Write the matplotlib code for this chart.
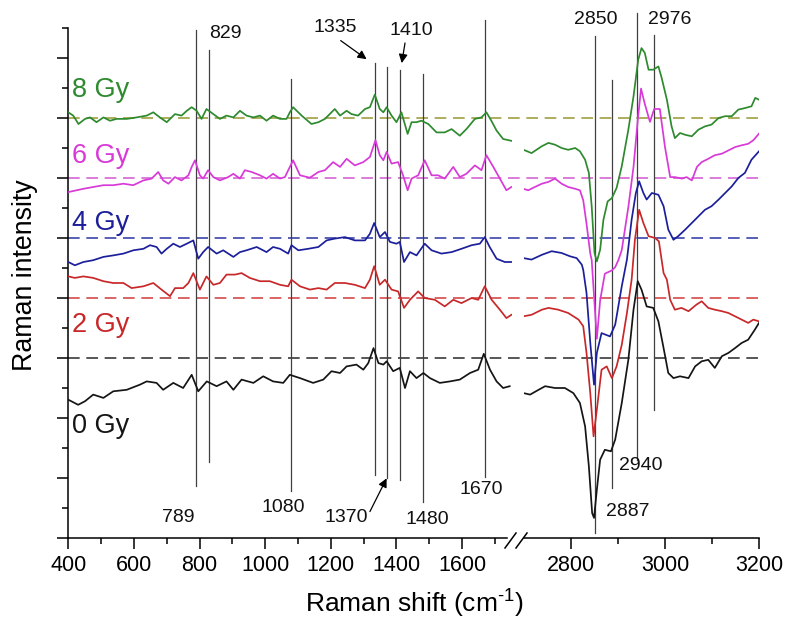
import matplotlib
matplotlib.use("Agg")
import matplotlib.pyplot as plt
from matplotlib.lines import Line2D
from matplotlib.transforms import blended_transform_factory

plt.rcParams['font.family'] = ['Liberation Sans', 'DejaVu Sans']
plt.rcParams['mathtext.fontset'] = 'custom'
plt.rcParams['mathtext.rm'] = 'Liberation Sans'
plt.rcParams['mathtext.it'] = 'Liberation Sans:italic'

# ---------------- data ----------------
doses = ['0 Gy', '2 Gy', '4 Gy', '6 Gy', '8 Gy']
offsets = [6, 8, 10, 12, 14]

# fingerprint region (400-1750 cm-1), intensity relative to each baseline
wn0_lo = [400, 430, 451, 476, 507, 537, 578, 618, 639, 669, 689, 720, 750, 776, 796, 822, 852, 882, 903, 928,
          964, 994, 1024, 1055, 1075, 1106, 1146, 1177, 1202, 1228, 1248, 1278, 1299, 1314, 1330, 1345, 1360,
          1370, 1390, 1410, 1426, 1441, 1461, 1482, 1502, 1532, 1563, 1593, 1624, 1649, 1666, 1685, 1705, 1725, 1745]
int0_lo = [-1.39, -1.56, -1.44, -1.22, -1.33, -1.11, -1.06, -0.89, -0.78, -0.83, -1.06, -0.83, -1.00, -0.56, -1.11,
           -0.78, -0.94, -0.78, -1.06, -0.72, -0.83, -0.61, -0.78, -0.83, -0.56, -0.67, -0.83, -0.72, -0.44, -0.50,
           -0.28, -0.22, -0.39, -0.17, 0.33, -0.17, -0.22, -0.11, -0.44, -0.33, -1.00, -0.44, -0.67, -0.50, -0.67,
           -0.83, -0.78, -0.72, -0.50, -0.39, 0.14, -0.39, -0.78, -1.00, -0.94]

wn2_lo = [400, 420, 446, 476, 507, 537, 568, 593, 629, 659, 684, 710, 725, 750, 766, 781, 801, 821, 842, 862,
          882, 908, 928, 953, 984, 1014, 1045, 1070, 1080, 1106, 1136, 1162, 1187, 1212, 1243, 1273, 1304, 1319,
          1332, 1349, 1365, 1385, 1405, 1423, 1441, 1466, 1486, 1517, 1547, 1573, 1598, 1629, 1649, 1669, 1690,
          1715, 1735, 1750]
int2_lo = [0.72, 0.67, 0.72, 0.67, 0.56, 0.50, 0.50, 0.33, 0.39, 0.50, 0.28, 0.06, 0.33, 0.33, 0.50, 0.83, 0.28,
           0.72, 0.44, 0.50, 0.78, 0.78, 0.83, 0.67, 0.56, 0.56, 0.44, 0.39, 0.61, 0.39, 0.28, 0.33, 0.28, 0.50,
           0.50, 0.44, 0.33, 0.61, 1.06, 0.44, 0.61, 0.28, 0.22, -0.33, -0.06, 0.22, 0.00, -0.06, -0.28, -0.06,
           -0.17, 0.00, -0.06, 0.39, -0.06, -0.39, -0.67, -0.56]

wn4_lo = [400, 420, 446, 476, 507, 537, 568, 598, 629, 649, 669, 684, 700, 720, 740, 761, 781, 796, 811, 826,
          852, 872, 903, 923, 943, 974, 1004, 1024, 1045, 1070, 1080, 1101, 1131, 1162, 1187, 1212, 1243, 1273,
          1304, 1319, 1332, 1349, 1365, 1380, 1400, 1410, 1423, 1441, 1461, 1486, 1507, 1537, 1568, 1598, 1629,
          1654, 1669, 1684, 1705, 1730, 1750]
int4_lo = [-0.80, -0.91, -0.80, -0.74, -0.63, -0.58, -0.52, -0.41, -0.36, -0.24, -0.30, -0.52, -0.36, -0.19, -0.30,
           -0.19, -0.08, -0.69, -0.47, -0.30, -0.52, -0.41, -0.63, -0.47, -0.41, -0.30, -0.47, -0.30, -0.36, -0.52,
           -0.24, -0.41, -0.36, -0.30, -0.08, -0.02, 0.03, -0.08, -0.08, 0.14, 0.50, 0.03, 0.20, -0.13, -0.19,
           -0.13, -0.80, -0.47, -0.58, -0.19, -0.41, -0.52, -0.47, -0.36, -0.24, -0.19, 0.03, -0.30, -0.69, -0.80,
           -0.80]

wn6_lo = [400, 425, 446, 476, 507, 537, 568, 598, 629, 654, 674, 689, 705, 725, 745, 766, 776, 786, 801, 811,
          826, 842, 862, 887, 903, 923, 938, 959, 984, 1004, 1024, 1045, 1060, 1085, 1106, 1136, 1162, 1182, 1207,
          1228, 1248, 1273, 1299, 1319, 1336, 1349, 1360, 1370, 1385, 1405, 1420, 1434, 1446, 1466, 1486, 1507,
          1527, 1547, 1573, 1593, 1613, 1639, 1659, 1674, 1695, 1715, 1735, 1750]
int6_lo = [-0.47, -0.41, -0.36, -0.30, -0.24, -0.24, -0.19, -0.24, -0.08, -0.02, 0.20, -0.08, -0.19, 0.03, -0.08,
           0.09, 0.37, 0.59, 0.09, -0.02, 0.26, 0.03, -0.08, 0.03, 0.14, -0.02, 0.26, 0.20, 0.09, -0.02, 0.14,
           -0.02, 0.03, 0.59, 0.09, 0.01, 0.20, 0.26, 0.53, 0.37, 0.64, 0.42, 0.53, 0.70, 1.26, 0.76, 0.59, 0.87,
           0.48, 0.53, 0.09, -0.41, -0.02, 0.09, 0.59, 0.09, 0.09, -0.02, 0.37, 0.03, 0.14, 0.42, 0.26, 0.76, 0.37,
           -0.02, -0.41, -0.30]

wn8_lo = [400, 415, 431, 451, 466, 486, 507, 527, 547, 578, 608, 639, 659, 679, 700, 725, 745, 761, 776, 791,
          806, 821, 842, 862, 882, 903, 923, 943, 964, 984, 1004, 1024, 1045, 1065, 1075, 1085, 1111, 1141, 1162,
          1182, 1212, 1228, 1248, 1263, 1283, 1304, 1319, 1334, 1349, 1360, 1370, 1385, 1400, 1415, 1434, 1446,
          1461, 1476, 1497, 1522, 1547, 1568, 1593, 1613, 1639, 1659, 1674, 1689, 1705, 1725, 1750]
int8_lo = [0.19, 0.08, -0.20, -0.03, 0.02, -0.14, 0.02, -0.09, -0.03, -0.03, 0.02, 0.08, 0.19, 0.02, -0.14, 0.13,
           0.08, 0.24, 0.36, 0.24, -0.03, 0.30, 0.13, -0.03, 0.08, 0.02, 0.24, 0.08, 0.02, 0.08, -0.09, 0.08, -0.03,
           -0.03, 0.19, 0.36, 0.08, -0.20, -0.14, -0.03, 0.30, 0.08, 0.24, 0.13, 0.08, 0.30, 0.36, 0.78, 0.30, 0.19,
           0.36, 0.08, -0.14, 0.19, -0.53, -0.14, -0.14, -0.09, -0.20, -0.48, -0.48, -0.37, -0.59, -0.37, -0.03,
           0.02, 0.19, -0.09, -0.42, -0.70, -0.76]

# high-wavenumber region (2700-3200 cm-1)
wn0_hi = [2699, 2713, 2731, 2745, 2766, 2787, 2805, 2819, 2830, 2838, 2845, 2849, 2855, 2862, 2872, 2885, 2894,
          2908, 2922, 2933, 2942, 2950, 2961, 2975, 2986, 2997, 3007, 3018, 3032, 3050, 3064, 3078, 3092, 3106,
          3121, 3135, 3149, 3163, 3177, 3191, 3200]
int0_hi = [-1.17, -1.22, -1.06, -0.94, -1.00, -1.00, -1.17, -1.50, -2.28, -3.61, -5.17, -5.33, -4.39, -3.39, -3.06,
           -3.11, -2.72, -1.50, -0.06, 1.61, 2.56, 2.28, 1.72, 1.67, 1.22, 0.33, -0.50, -0.67, -0.61, -0.67, -0.28,
           -0.11, -0.06, -0.33, 0.06, 0.17, 0.33, 0.50, 0.61, 0.94, 1.17]

wn2_hi = [2699, 2716, 2738, 2752, 2773, 2794, 2816, 2826, 2833, 2841, 2848, 2855, 2865, 2876, 2887, 2897, 2908,
          2919, 2929, 2936, 2945, 2954, 2965, 2979, 2987, 2997, 3004, 3011, 3021, 3035, 3050, 3067, 3078, 3092,
          3106, 3121, 3135, 3149, 3163, 3177, 3188, 3200]
int2_hi = [-0.61, -0.56, -0.39, -0.33, -0.39, -0.50, -0.72, -0.94, -1.83, -3.17, -4.61, -3.72, -2.39, -2.28, -2.67,
           -2.28, -1.56, -0.50, 0.61, 1.94, 2.94, 2.50, 2.06, 2.00, 1.89, 0.83, 0.61, -0.06, -0.39, -0.33, -0.44,
           -0.22, -0.11, -0.33, -0.39, -0.44, -0.50, -0.61, -0.72, -0.83, -0.72, -0.78]

wn4_hi = [2699, 2716, 2738, 2759, 2780, 2798, 2812, 2823, 2826, 2833, 2841, 2849, 2855, 2865, 2883, 2894, 2908,
          2919, 2929, 2938, 2945, 2954, 2961, 2972, 2986, 2997, 3007, 3018, 3028, 3043, 3057, 3071, 3085, 3099,
          3114, 3128, 3142, 3156, 3170, 3184, 3200]
int4_hi = [-0.67, -0.72, -0.56, -0.44, -0.50, -0.61, -0.67, -0.89, -1.06, -1.83, -3.49, -4.89, -3.83, -3.17, -3.28,
           -2.89, -1.61, -0.72, 0.61, 1.50, 1.89, 1.50, 1.28, 1.50, 1.44, 1.06, 0.28, -0.06, 0.06, 0.28, 0.50,
           0.72, 0.94, 1.06, 1.28, 1.50, 1.72, 2.00, 2.17, 2.61, 2.89]

wn6_hi = [2699, 2709, 2723, 2738, 2752, 2766, 2780, 2794, 2809, 2819, 2826, 2833, 2841, 2844, 2855, 2862, 2872,
          2880, 2887, 2894, 2901, 2908, 2922, 2933, 2942, 2949, 2957, 2968, 2977, 2989, 3000, 3011, 3021, 3036,
          3046, 3057, 3068, 3078, 3092, 3106, 3121, 3135, 3149, 3163, 3177, 3188, 3200]
int6_hi = [-0.36, -0.41, -0.30, -0.19, -0.13, -0.02, -0.19, -0.30, -0.36, -0.41, -0.74, -1.52, -2.52, -2.73, -5.36,
           -4.08, -3.19, -3.13, -3.08, -2.97, -2.73, -2.40, -0.97, 0.37, 1.92, 2.98, 2.47, 1.87, 2.30, 2.30, 1.03,
           0.03, 0.03, -0.02, 0.03, -0.08, 0.37, 0.53, 0.64, 0.76, 0.81, 0.92, 1.03, 1.09, 1.14, 1.26, 1.48]

wn8_hi = [2699, 2716, 2738, 2752, 2766, 2780, 2794, 2809, 2819, 2830, 2838, 2844, 2850, 2855, 2862, 2869, 2878,
          2887, 2897, 2908, 2922, 2933, 2943, 2950, 2957, 2965, 2975, 2986, 2993, 3004, 3014, 3021, 3032, 3043,
          3057, 3071, 3085, 3099, 3114, 3128, 3142, 3156, 3170, 3184, 3192, 3200]
int8_hi = [-1.06, -1.17, -0.94, -0.83, -0.89, -1.00, -1.06, -1.00, -1.11, -1.39, -1.83, -2.94, -4.50, -4.78, -4.39,
           -3.39, -2.78, -2.67, -2.33, -1.61, -0.39, 0.72, 1.94, 2.33, 2.17, 1.61, 1.61, 1.72, 1.33, 0.61, -0.28,
           -0.67, -0.50, -0.56, -0.61, -0.39, -0.28, -0.22, 0.00, 0.06, 0.06, 0.28, 0.33, 0.39, 0.67, 0.61]

# marked band positions (cm-1)
peaks_lo = [789, 829, 1080, 1335, 1370, 1410, 1480, 1670]
peaks_hi = [2850, 2887, 2940, 2976]

# ---------------- styling / layout ----------------
line_colors = ['#151515', '#c8282a', '#1c1f9a', '#d83ad8', '#2e8a2e']
base_colors = ['#3a3a3a', '#d44a4a', '#3a44aa', '#d466d4', '#a0a040']
label_base_y = [3.49, 6.88, 10.27, 12.49, 14.71]

# vertical extent of each marker line (y data units)
lo_top = [16.93, 16.27, 15.30, 15.83, 15.70, 15.60, 15.47, 17.27]
lo_bot = [1.73, 2.53, 1.57, 2.10, 2.00, 1.93, 1.20, 2.03]
hi_top = [16.73, 15.27, 17.50, 16.77]
hi_bot = [0.17, 1.67, 2.60, 4.27]
# label anchor (x data, y data) for each marker
lo_lab = [(735, 0.67), (880, 16.83), (1054, 1.0), (1213, 17.03), (1246, 0.67), (1446, 16.93), (1493, 0.6), (1657, 1.63)]
hi_lab = [(2853, 17.27), (2921, 0.9), (2949, 2.43), (3011, 17.27)]

W, H = 785, 622
fig = plt.figure(figsize=(W / 100, H / 100), dpi=100)
ybot, ytop = 538, 28
ax1 = fig.add_axes([68.3 / W, (H - ybot) / H, (512 - 68.3) / W, (ybot - ytop) / H])
ax2 = fig.add_axes([524 / W, (H - ybot) / H, (759 - 524) / W, (ybot - ytop) / H])
for ax in (ax1, ax2):
    ax.patch.set_visible(False)
    ax.set_ylim(0, 17)
    ax.spines['top'].set_visible(False)
    ax.spines['right'].set_visible(False)
    for s in ax.spines.values():
        s.set_linewidth(1.1)
ax1.set_xlim(400, 1752)
ax2.set_xlim(2700, 3200)
ax2.spines['left'].set_visible(False)
ax1.spines['bottom'].set_bounds(400, 1738)

ax1.set_xticks(range(400, 1601, 200))
ax1.set_xticks(range(500, 1701, 200), minor=True)
ax2.set_xticks([2800, 3000, 3200])
ax2.set_xticks([2900, 3100], minor=True)
ax1.set_yticks(range(0, 17, 2))
ax1.set_yticks(range(1, 18, 2), minor=True)
ax1.set_yticklabels([])
ax2.set_yticks([])
for ax in (ax1, ax2):
    ax.tick_params(which='major', direction='out', length=8, width=1.1, labelsize=15.5, pad=4)
    ax.tick_params(which='minor', direction='out', length=4.5, width=1.1)

# dashed baselines across both panels
btrans = blended_transform_factory(fig.transFigure, ax1.transData)
for off, bc in zip(offsets, base_colors):
    fig.add_artist(Line2D([68.3 / W, 762 / W], [off, off], transform=btrans, color=bc,
                          lw=1.2, linestyle=(0, (7, 4)), zorder=-1))

# marker lines
for p, t, b in zip(peaks_lo, lo_top, lo_bot):
    ax1.plot([p, p], [b, t], color='#404040', lw=0.9, clip_on=False, zorder=1)
for p, t, b in zip(peaks_hi, hi_top, hi_bot):
    ax2.plot([p, p], [b, t], color='#404040', lw=0.9, clip_on=False, zorder=1)

# spectra
lo_sets = [(wn0_lo, int0_lo), (wn2_lo, int2_lo), (wn4_lo, int4_lo), (wn6_lo, int6_lo), (wn8_lo, int8_lo)]
hi_sets = [(wn0_hi, int0_hi), (wn2_hi, int2_hi), (wn4_hi, int4_hi), (wn6_hi, int6_hi), (wn8_hi, int8_hi)]
for (xl, yl), (xh, yh), off, c in zip(lo_sets, hi_sets, offsets, line_colors):
    ax1.plot(xl, [v + off for v in yl], color=c, lw=1.25, zorder=3)
    ax2.plot(xh, [v + off for v in yh], color=c, lw=1.25, zorder=3)

# dose labels
for d, yb, c in zip(doses, label_base_y, line_colors):
    ax1.text(411, yb, d, color=c, fontsize=19.5, ha='left', va='baseline')

# band labels
for p, (lx, ly) in zip(peaks_lo, lo_lab):
    ax1.text(lx, ly, str(p), fontsize=14, ha='center', va='center', color='#111111')
for p, (lx, ly) in zip(peaks_hi, hi_lab):
    ax2.text(lx, ly, str(p), fontsize=14, ha='center', va='center', color='#111111')

# arrows pointing to the closely spaced bands
arrow_kw = dict(arrowstyle='-|>', color='black', lw=0.9, mutation_scale=13, shrinkA=0, shrinkB=0)
ax1.annotate('', xy=(1335 - 26, 15.96), xytext=(1230, 16.58), arrowprops=arrow_kw, annotation_clip=False)
ax1.annotate('', xy=(1410 + 6, 15.83), xytext=(1426, 16.5), arrowprops=arrow_kw, annotation_clip=False)
ax1.annotate('', xy=(1370, 1.99), xytext=(1319, 0.88), arrowprops=arrow_kw, annotation_clip=False)

# axis break marks
for x0 in (505, 516):
    fig.add_artist(Line2D([x0 / W, (x0 + 11) / W], [1 - 548 / H, 1 - 533 / H],
                          transform=fig.transFigure, color='black', lw=1.1))

fig.text(414 / W, 1 - 613 / H, r'Raman shift (cm$^{\text{-}1}$)', fontsize=19, ha='center', va='baseline')
fig.text(25 / W, 1 - 275 / H, 'Raman intensity', fontsize=19.3, ha='center', va='center', rotation=90)

fig.savefig('out.png', dpi=100)
